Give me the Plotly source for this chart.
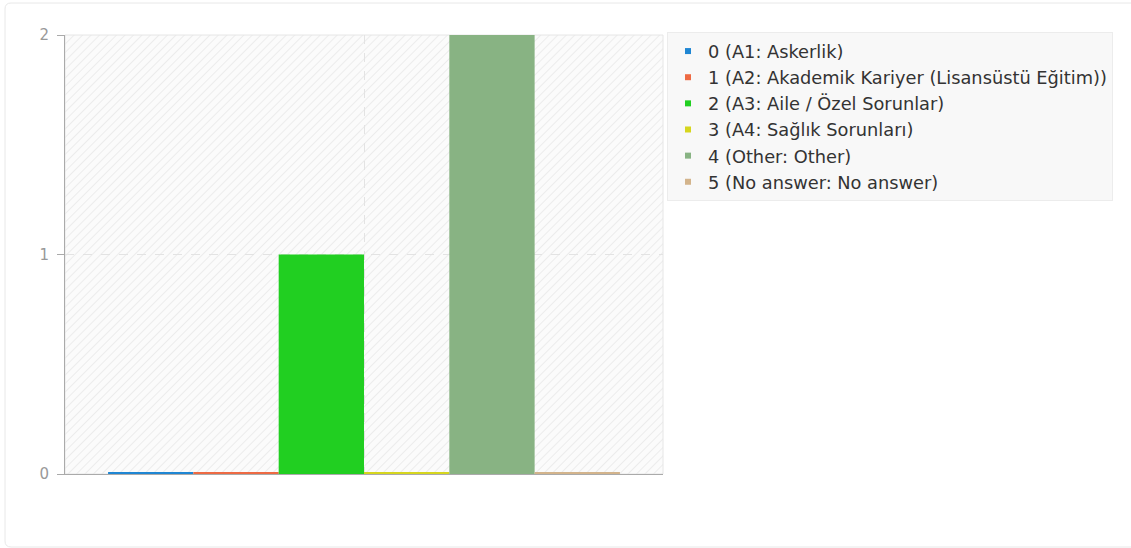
import base64
import plotly.graph_objects as go

# ---- data ----
categories = ["0 (A1: Askerlik)",
              "1 (A2: Akademik Kariyer (Lisansüstü Eğitim))",
              "2 (A3: Aile / Özel Sorunlar)",
              "3 (A4: Sağlık Sorunları)",
              "4 (Other: Other)",
              "5 (No answer: No answer)"]
counts = [0, 0, 1, 0, 2, 0]
colors = ["#1f86d3", "#ee6a43", "#21cf21", "#d6d61e", "#88b383", "#d3b48c"]
y_ticks = [0, 1, 2]
group_label = ["Q"]

STUB = 0.008  # visual thickness for zero-height bars

# hatched plot background (as an inline SVG image)
svg = ('<svg xmlns="http://www.w3.org/2000/svg" width="598" height="439">'
       '<defs><pattern id="p" width="6" height="6" patternUnits="userSpaceOnUse" '
       'patternTransform="rotate(45)">'
       '<rect width="6" height="6" fill="#fbfbfb"/>'
       '<line x1="0" y1="0" x2="0" y2="6" stroke="#ececec" stroke-width="2"/>'
       '</pattern></defs>'
       '<rect width="598" height="439" fill="url(#p)"/></svg>')
svg_uri = "data:image/svg+xml;base64," + base64.b64encode(svg.encode()).decode()

fig = go.Figure()
for i, (name, v, c) in enumerate(zip(categories, counts, colors)):
    fig.add_trace(go.Bar(
        x=group_label, y=[v if v > 0 else STUB], name=name,
        marker=dict(color=c, line=dict(width=0)),
        showlegend=False, legendgroup=str(i),
        hovertemplate=f"{name}: {v}<extra></extra>",
    ))
for i, (name, c) in enumerate(zip(categories, colors)):
    fig.add_trace(go.Scatter(
        x=[None], y=[None], mode="markers", name=name,
        marker=dict(symbol="square", size=6, color=c),
        legendgroup=str(i), showlegend=True,
    ))

L, T, R, B = 65, 35, 468, 74
W, H = 1131, 548
pw, ph = W - L - R, H - T - B

def px_x(p):
    return (p - L) / pw

def px_y(p):
    return (H - B - p) / ph

# rounded card outline
cx0, cx1, cy0, cy1 = px_x(5), px_x(1140), px_y(547), px_y(3)
rx, ry = 6 / pw, 6 / ph
card_path = (f"M{cx0+rx},{cy1} L{cx1-rx},{cy1} Q{cx1},{cy1} {cx1},{cy1-ry} "
             f"L{cx1},{cy0+ry} Q{cx1},{cy0} {cx1-rx},{cy0} L{cx0+rx},{cy0} "
             f"Q{cx0},{cy0} {cx0},{cy0+ry} L{cx0},{cy1-ry} Q{cx0},{cy1} {cx0+rx},{cy1} Z")

fig.update_layout(
    width=W, height=H,
    margin=dict(l=L, r=R, t=T, b=B, pad=0, autoexpand=False),
    paper_bgcolor="white",
    plot_bgcolor="rgba(0,0,0,0)",
    barmode="group", bargap=0.144, bargroupgap=0,
    font=dict(family="DejaVu Sans", size=15, color="#333333"),
    xaxis=dict(
        showticklabels=False, ticks="",
        showgrid=True, gridcolor="#e3e3e3", griddash="dash", gridwidth=1,
        showline=True, linecolor="#aaaaaa", linewidth=1,
        zeroline=False, fixedrange=True,
    ),
    yaxis=dict(
        range=[0, 2], tickvals=y_ticks, ticktext=[str(t) for t in y_ticks],
        ticks="outside", ticklen=7, tickcolor="#aaaaaa", tickwidth=1,
        ticklabelstandoff=5,
        tickfont=dict(family="DejaVu Sans", size=15, color="#999999"),
        showgrid=True, gridcolor="#e3e3e3", griddash="dash", gridwidth=1,
        showline=True, linecolor="#aaaaaa", linewidth=1,
        zeroline=False, fixedrange=True,
    ),
    legend=dict(
        x=px_x(667), y=px_y(32), xanchor="left", yanchor="top",
        bgcolor="#f8f8f8", bordercolor="#ececec", borderwidth=1,
        font=dict(family="DejaVu Sans", size=17.8, color="#333333"),
        tracegroupgap=0,
    ),
    images=[dict(source=svg_uri, xref="paper", yref="paper", x=0, y=1,
                 sizex=1, sizey=1, xanchor="left", yanchor="top",
                 sizing="stretch", layer="below")],
    shapes=[
        dict(type="rect", xref="paper", yref="paper", x0=0, x1=1, y0=0, y1=1,
             line=dict(color="#e6e6e6", width=1), layer="below"),
        dict(type="path", xref="paper", yref="paper", path=card_path,
             line=dict(color="#e8e8e8", width=1), layer="below"),
    ],
    hovermode="closest",
)

fig.write_html("out.html", config={"displayModeBar": False},
               post_script="document.body.style.margin='0';document.body.style.overflow='hidden';")
